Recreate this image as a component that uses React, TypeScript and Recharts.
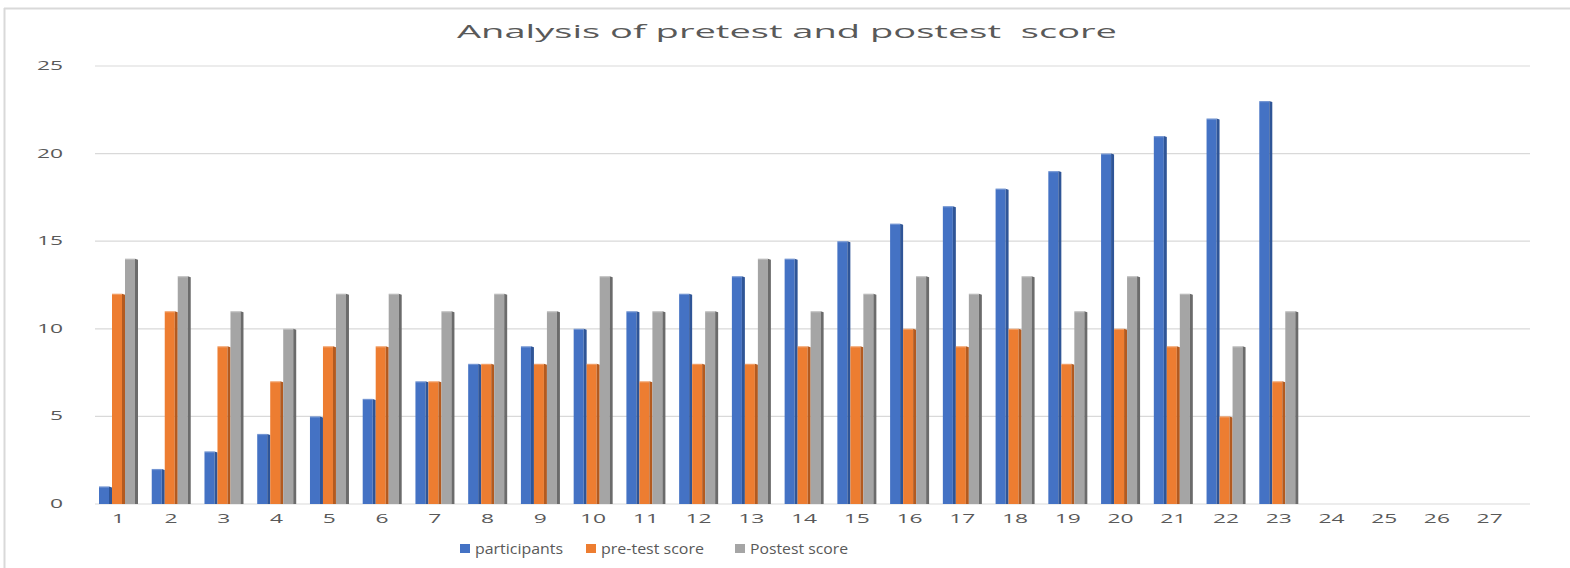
import React from "react";
import { BarChart, Bar, XAxis, YAxis, CartesianGrid } from "recharts";

const categories = [
  "1", "2", "3", "4", "5", "6", "7", "8", "9", "10", "11", "12", "13", "14",
  "15", "16", "17", "18", "19", "20", "21", "22", "23", "24", "25", "26", "27",
];
const participants = [1, 2, 3, 4, 5, 6, 7, 8, 9, 10, 11, 12, 13, 14, 15, 16, 17, 18, 19, 20, 21, 22, 23];
const pretest = [12, 11, 9, 7, 9, 9, 7, 8, 8, 8, 7, 8, 8, 9, 9, 10, 9, 10, 8, 10, 9, 5, 7];
const posttest = [14, 13, 11, 10, 12, 12, 11, 12, 11, 13, 11, 11, 14, 11, 12, 13, 12, 13, 11, 13, 12, 9, 11];
const yTicks = [0, 5, 10, 15, 20, 25];

const series = [
  { key: "participants", name: "participants", fill: "#4472C4", side: "#2F5597", legendW: 88 },
  { key: "pretest", name: "pre-test score", fill: "#ED7D31", side: "#B35A1F", legendW: 103 },
  { key: "posttest", name: "Postest score", fill: "#A5A5A5", side: "#6B6B6B", legendW: 98 },
];

const data = categories.map((c, i) => ({
  name: c,
  participants: participants[i],
  pretest: pretest[i],
  posttest: posttest[i],
}));

const FONT = "'Open Sans', 'Liberation Sans', sans-serif";
const TEXT = "#595959";

// fake 3d column: front face plus a darker strip on the right
const make3d = (side: string) => (props: any) => {
  const { x, y, width, height, fill } = props;
  if (height == null || height <= 0) return <g />;
  const d = 3;
  return (
    <g>
      <rect x={x} y={y} width={width - d} height={height} fill={fill} />
      <polygon
        points={`${x + width - d},${y} ${x + width},${y + 1} ${x + width},${y + height} ${x + width - d},${y + height}`}
        fill={side}
      />
      <rect x={x} y={y} width={width - d} height={1.2} fill="#ffffff" opacity={0.25} />
    </g>
  );
};

const StretchTick = (props: any) => {
  const { x, y, payload, axis } = props;
  const isX = axis === "x";
  return (
    <g transform={`translate(${x},${y})`}>
      <text
        transform="scale(1.9,1)"
        x={0}
        y={0}
        dy={isX ? 11 : 4}
        textAnchor={isX ? "middle" : "end"}
        fill={TEXT}
        fontSize={12}
        fontFamily={FONT}
      >
        {payload.value}
      </text>
    </g>
  );
};

export default function App() {
  const legendX = [460, 586, 735];
  return (
    <div style={{ position: "absolute", left: 0, top: 0, width: 1570, height: 568, background: "#fff" }}>
      <svg width={1570} height={568} style={{ position: "absolute", left: 0, top: 0 }}>
        <line x1={4.5} y1={8} x2={4.5} y2={568} stroke="#d9d9d9" strokeWidth={2} />
        <line x1={4} y1={8.5} x2={1570} y2={8.5} stroke="#d9d9d9" strokeWidth={2} />
        <text
          x={457}
          y={38}
          textLength={660}
          lengthAdjust="spacingAndGlyphs"
          fontSize={19}
          fontFamily={FONT}
          fill={TEXT}
          style={{ whiteSpace: "pre" }}
        >
          Analysis of pretest and postest  score
        </text>
        {series.map((s, i) => (
          <g key={s.key}>
            <rect x={legendX[i]} y={544} width={10} height={9} fill={s.fill} />
            <text
              x={legendX[i] + 15}
              y={554}
              textLength={s.legendW}
              lengthAdjust="spacingAndGlyphs"
              fontSize={14.5}
              fontFamily={FONT}
              fill={TEXT}
            >
              {s.name}
            </text>
          </g>
        ))}
      </svg>
      <div style={{ position: "absolute", left: 0, top: 0 }}>
        <BarChart
          width={1570}
          height={568}
          data={data}
          margin={{ top: 66, right: 54, left: 0, bottom: 24 }}
          barGap={0}
          barSize={13}
        >
          <CartesianGrid
            vertical={false}
            stroke="#d9d9d9"
            strokeWidth={1.2}
            x={95}
            width={1435}
          />
          <XAxis
            dataKey="name"
            axisLine={false}
            tickLine={false}
            tickSize={0}
            tickMargin={8}
            height={40}
            interval={0}
            tick={<StretchTick axis="x" />}
          />
          <YAxis
            domain={[0, 25]}
            ticks={yTicks}
            axisLine={false}
            tickLine={false}
            tickSize={0}
            tickMargin={29}
            width={92}
            tick={<StretchTick axis="y" />}
          />
          {series.map((s) => (
            <Bar
              key={s.key}
              dataKey={s.key}
              name={s.name}
              fill={s.fill}
              shape={make3d(s.side)}
              isAnimationActive={false}
            />
          ))}
        </BarChart>
      </div>
    </div>
  );
}
